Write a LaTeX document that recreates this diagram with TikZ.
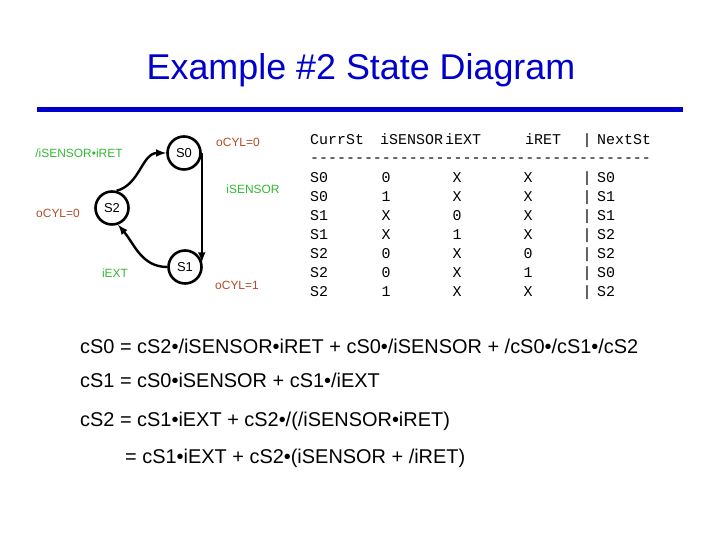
\documentclass[tikz,border=0pt]{standalone}
\usepackage{fontspec}
\setmainfont{Liberation Sans}
\newfontfamily\tablefont{Liberation Mono}
\usetikzlibrary{arrows,calc}
\definecolor{TitleClr}{rgb}{0,0,0.8}
\definecolor{InClr}{rgb}{0.2,0.72,0.2}
\definecolor{OutClr}{rgb}{0.7,0.3,0.15}

\begin{document}
\begin{tikzpicture}[x=1bp,y=1bp,
  state/.style={circle,draw=black,line width=2.6bp,minimum size=33bp,inner sep=0pt,font=\fontsize{13}{13}\selectfont},
  trans/.style={-latex,line width=2.4bp},
  inlbl/.style={text=InClr,inner sep=0pt,font=\fontsize{12}{12}\selectfont},
  outlbl/.style={text=OutClr,inner sep=0pt,font=\fontsize{12}{12}\selectfont},
  cell/.style={inner sep=0pt,text height=9bp,text depth=0bp,font=\tablefont\fontsize{15}{15}\selectfont},
  eqn/.style={anchor=west,inner sep=0pt,text height=14bp,text depth=0bp,font=\fontsize{20}{20}\selectfont}]
\useasboundingbox (0,0) rectangle (720,540);

\node[text=TitleClr,font=\fontsize{36}{36}\selectfont] (title) at (361,470) {Example \#2 State Diagram};
\fill[TitleClr] (37,428) rectangle (683,433);

\node[state] (S0) at (184,387) {S0};
\node[state] (S2) at (112,332) {S2};
\node[state] (S1) at (185,273) {S1};

\draw[trans] (S2.75) to[out=15,in=180] (S0.west);
\draw[trans] (S1.west) to[out=180,in=-50] (S2.-70);
\draw[trans] (S0.east) -- (S0.east |- S1.15);

\node[inlbl] (l20) at (79,387) {/iSENSOR•iRET};
\node[inlbl] (l01) at (253,351) {iSENSOR};
\node[inlbl] (l12) at (115,267) {iEXT};
\node[outlbl] (o0) at (238,398) {oCYL=0};
\node[outlbl] (o2) at (58,327) {oCYL=0};
\node[outlbl] (o1) at (237,255) {oCYL=1};

\node[cell,anchor=west] (hcs) at (310,400) {CurrSt};
\node[cell,anchor=west] (hsn) at (380,400) {iSENSOR};
\node[cell,anchor=west] (hex) at (445,400) {iEXT};
\node[cell,anchor=west] (hrt) at (525,400) {iRET};
\node[cell] (hbar) at (587,400) {|};
\node[cell,anchor=west] (hns) at (597,400) {NextSt};
\node[cell,anchor=west] (dashes) at (310,382) {--------------------------------------};

\foreach \cs/\sn/\ex/\rt/\ns [count=\r] in
  {S0/0/X/X/S0, S0/1/X/X/S1, S1/X/0/X/S1, S1/X/1/X/S2, S2/0/X/0/S2, S2/0/X/1/S0, S2/1/X/X/S2}{
  \node[cell,anchor=west] (cs\r) at (310,381-19*\r) {\cs};
  \node[cell] (sn\r) at (386,381-19*\r) {\sn};
  \node[cell] (ex\r) at (457,381-19*\r) {\ex};
  \node[cell] (rt\r) at (528,381-19*\r) {\rt};
  \node[cell] (bar\r) at (587,381-19*\r) {|};
  \node[cell,anchor=west] (ns\r) at (597,381-19*\r) {\ns};
}

\node[eqn] (eq0) at (80,193) {cS0 = cS2•/iSENSOR•iRET + cS0•/iSENSOR + /cS0•/cS1•/cS2};
\node[eqn] (eq1) at (80,159) {cS1 = cS0•iSENSOR + cS1•/iEXT};
\node[eqn] (eq2) at (80,120) {cS2 = cS1•iEXT + cS2•/(/iSENSOR•iRET)};
\node[eqn] (eq3) at (125,83) {= cS1•iEXT + cS2•(iSENSOR + /iRET)};

\end{tikzpicture}
\end{document}
